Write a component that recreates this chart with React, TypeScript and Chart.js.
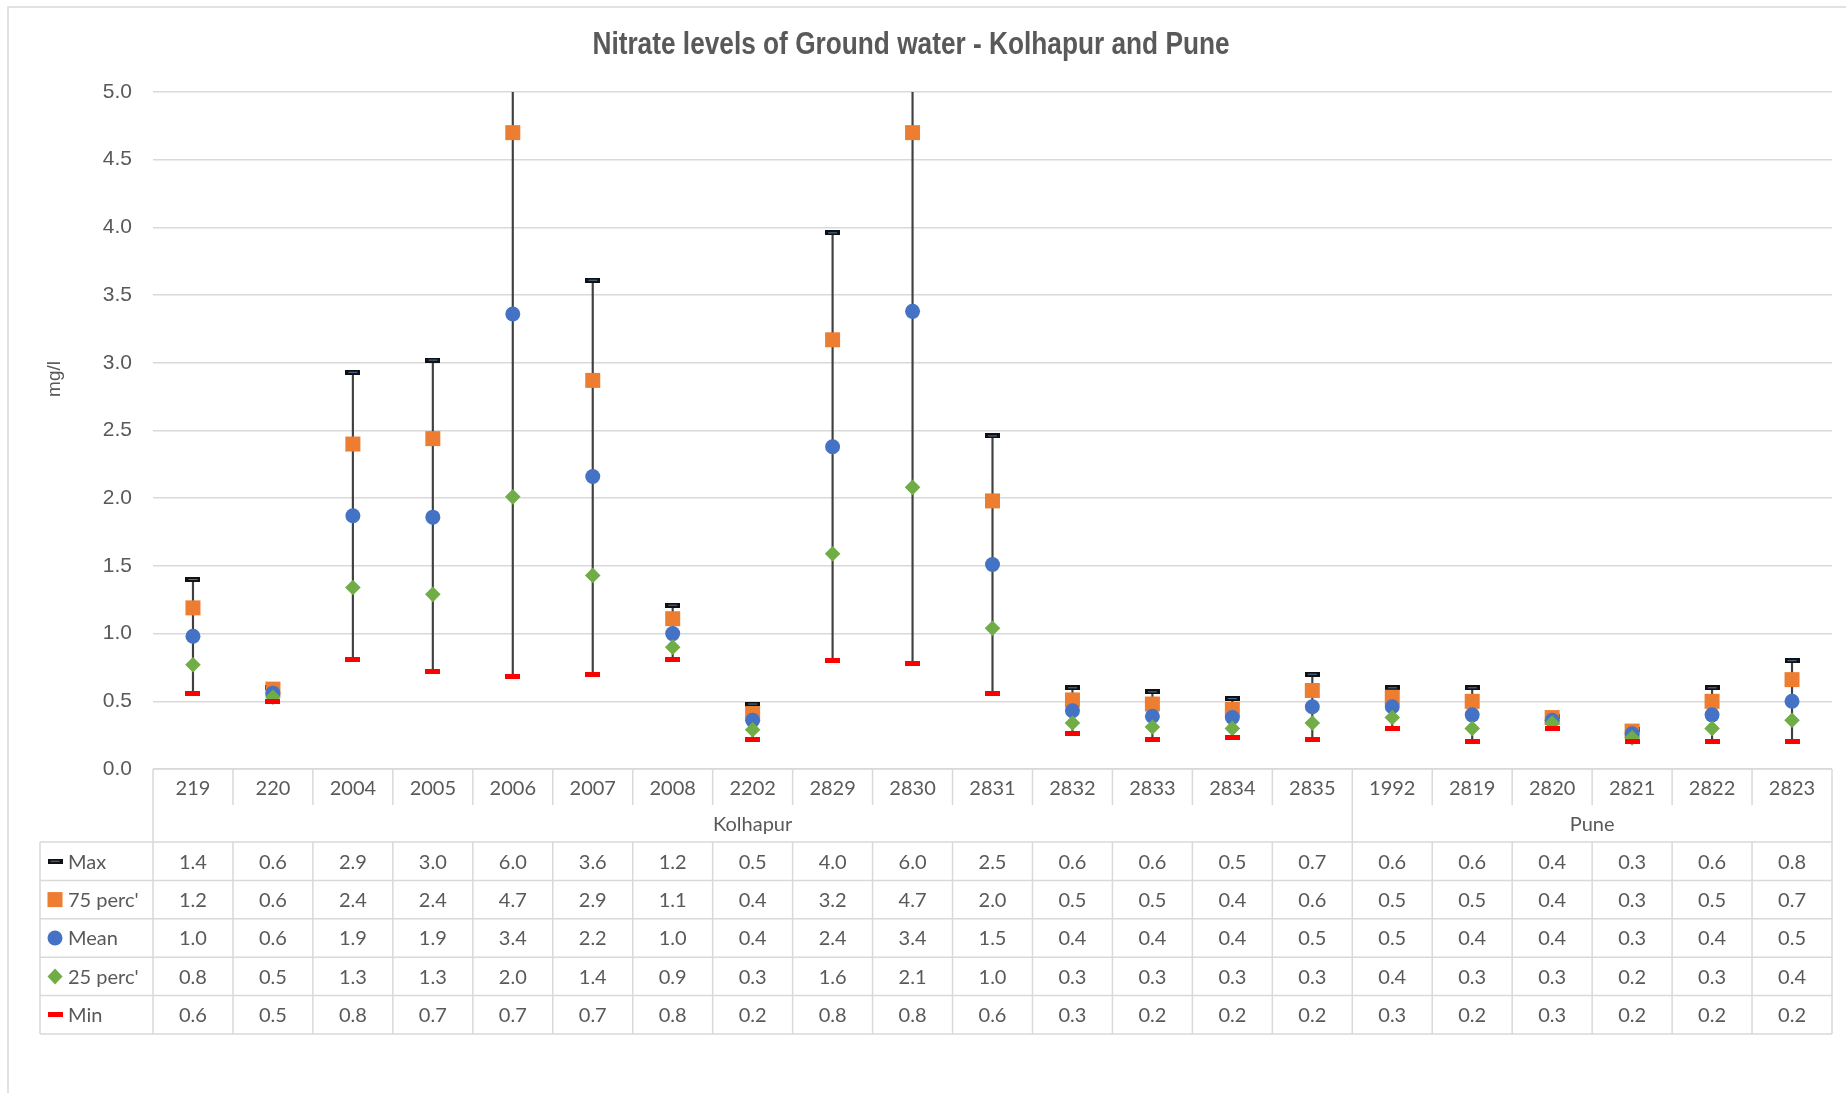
import React, { useEffect, useRef } from 'react';
import { Chart, registerables } from 'chart.js';

Chart.register(...registerables);

// ---- Data ----
const categories = ['219', '220', '2004', '2005', '2006', '2007', '2008', '2202', '2829', '2830', '2831', '2832', '2833', '2834', '2835', '1992', '2819', '2820', '2821', '2822', '2823'];
const groupLabels = ['Kolhapur', 'Pune'];
const groupSizes = [15, 6];

const maxValues = [1.40, 0.60, 2.93, 3.02, 6.0, 3.61, 1.21, 0.48, 3.96, 6.0, 2.46, 0.60, 0.57, 0.52, 0.70, 0.60, 0.60, 0.39, 0.29, 0.60, 0.80];
const p75Values = [1.19, 0.59, 2.40, 2.44, 4.70, 2.87, 1.11, 0.41, 3.17, 4.70, 1.98, 0.51, 0.48, 0.44, 0.58, 0.53, 0.50, 0.38, 0.28, 0.50, 0.66];
const meanValues = [0.98, 0.56, 1.87, 1.86, 3.36, 2.16, 1.00, 0.36, 2.38, 3.38, 1.51, 0.43, 0.39, 0.38, 0.46, 0.46, 0.40, 0.36, 0.26, 0.40, 0.50];
const p25Values = [0.77, 0.53, 1.34, 1.29, 2.01, 1.43, 0.90, 0.29, 1.59, 2.08, 1.04, 0.34, 0.31, 0.30, 0.34, 0.38, 0.30, 0.34, 0.23, 0.30, 0.36];
const minValues = [0.56, 0.50, 0.81, 0.72, 0.68, 0.70, 0.81, 0.22, 0.80, 0.78, 0.56, 0.26, 0.22, 0.23, 0.22, 0.30, 0.20, 0.30, 0.20, 0.20, 0.20];

const seriesNames = ['Max', "75 perc'", 'Mean', "25 perc'", 'Min'];
const seriesValues = [maxValues, p75Values, meanValues, p25Values, minValues];

const yMin = 0;
const yMax = 5;
const yStep = 0.5;

const titleText = 'Nitrate levels of Ground water - Kolhapur and Pune';
const yTitle = 'mg/l';

// ---- Styles ----
const GRAY_TEXT = '#595959';
const GRID = '#d9d9d9';
const ORANGE = '#ED7D31';
const BLUE = '#4472C4';
const GREEN = '#70AD47';
const RED = '#FF0000';
const SANS = "'Liberation Sans', Arial, sans-serif";
const TABLE_FONT = "Lato, 'Open Sans', sans-serif";

function makeDash(kind: 'max' | 'min') {
  const c = document.createElement('canvas');
  c.width = 15;
  c.height = 5;
  const g = c.getContext('2d')!;
  if (kind === 'max') {
    g.fillStyle = '#111111';
    g.fillRect(0, 0, 15, 5);
    g.fillStyle = '#4f79a8';
    g.fillRect(3, 2, 9, 1);
  } else {
    g.fillStyle = RED;
    g.fillRect(0, 0, 15, 5);
  }
  return c;
}

function drawLegendIcon(ctx: CanvasRenderingContext2D, idx: number, cx: number, cy: number, maxImg: HTMLCanvasElement, minImg: HTMLCanvasElement) {
  ctx.save();
  if (idx === 0) {
    ctx.drawImage(maxImg, cx - 7.5, cy - 2.5);
  } else if (idx === 1) {
    ctx.fillStyle = ORANGE;
    ctx.fillRect(cx - 7.5, cy - 7.5, 15, 15);
  } else if (idx === 2) {
    ctx.fillStyle = BLUE;
    ctx.beginPath();
    ctx.arc(cx, cy, 7.5, 0, Math.PI * 2);
    ctx.fill();
  } else if (idx === 3) {
    ctx.fillStyle = GREEN;
    ctx.beginPath();
    ctx.moveTo(cx, cy - 8);
    ctx.lineTo(cx + 7.5, cy);
    ctx.lineTo(cx, cy + 8);
    ctx.lineTo(cx - 7.5, cy);
    ctx.closePath();
    ctx.fill();
  } else {
    ctx.drawImage(minImg, cx - 7.5, cy - 2.5);
  }
  ctx.restore();
}

export default function App() {
  const ref = useRef<HTMLCanvasElement | null>(null);

  useEffect(() => {
    if (!ref.current) return;
    const maxImg = makeDash('max');
    const minImg = makeDash('min');

    const tablePlugin = {
      id: 'dataTable',
      beforeDraw(chart: any) {
        const ctx = chart.ctx as CanvasRenderingContext2D;
        ctx.save();
        ctx.fillStyle = '#ffffff';
        ctx.fillRect(0, 0, chart.width, chart.height);
        ctx.strokeStyle = GRID;
        ctx.lineWidth = 1.5;
        ctx.strokeRect(8, 7, chart.width + 40, chart.height + 40);

        // title (condensed bold)
        ctx.translate(911, 45);
        ctx.scale(0.82, 1);
        ctx.font = `bold 32px ${SANS}`;
        ctx.fillStyle = GRAY_TEXT;
        ctx.textAlign = 'center';
        ctx.textBaseline = 'middle';
        ctx.fillText(titleText, 0, 0);
        ctx.restore();
      },
      afterDraw(chart: any) {
        const ctx = chart.ctx as CanvasRenderingContext2D;
        const xs = chart.scales.x;
        const area = chart.chartArea;
        const n = categories.length;
        const w = xs.getPixelForValue(1) - xs.getPixelForValue(0);
        const left = xs.getPixelForValue(0) - w / 2;
        const right = left + n * w;
        const edges: number[] = [];
        for (let i = 0; i <= n; i++) edges.push(left + i * w);

        const top = area.bottom;
        const catBottom = top + 36;
        const groupBottom = top + 73;
        const rowH = 38.4;
        const tableBottom = groupBottom + rowH * seriesNames.length;
        const legendLeft = 40;

        ctx.save();
        ctx.strokeStyle = GRID;
        ctx.lineWidth = 1.5;
        ctx.beginPath();
        ctx.moveTo(left, top);
        ctx.lineTo(right, top);
        for (let i = 1; i < n; i++) {
          ctx.moveTo(edges[i], top);
          ctx.lineTo(edges[i], catBottom);
        }
        let acc = 0;
        const groupEdges = [0];
        groupSizes.forEach((s) => {
          acc += s;
          groupEdges.push(acc);
        });
        groupEdges.forEach((g) => {
          ctx.moveTo(edges[g], top);
          ctx.lineTo(edges[g], tableBottom);
        });
        for (let r = 0; r <= seriesNames.length; r++) {
          const y = groupBottom + r * rowH;
          ctx.moveTo(legendLeft, y);
          ctx.lineTo(right, y);
        }
        ctx.moveTo(legendLeft, groupBottom);
        ctx.lineTo(legendLeft, tableBottom);
        for (let i = 1; i < n; i++) {
          ctx.moveTo(edges[i], groupBottom);
          ctx.lineTo(edges[i], tableBottom);
        }
        ctx.stroke();

        ctx.fillStyle = GRAY_TEXT;
        ctx.font = `20px ${TABLE_FONT}`;
        ctx.textAlign = 'center';
        ctx.textBaseline = 'middle';
        for (let g = 0; g < groupLabels.length; g++) {
          const cx = (edges[groupEdges[g]] + edges[groupEdges[g + 1]]) / 2;
          ctx.fillText(groupLabels[g], cx, (catBottom + groupBottom) / 2 + 1);
        }

        for (let r = 0; r < seriesNames.length; r++) {
          const cy = groupBottom + r * rowH + rowH / 2 + 1;
          const vals = seriesValues[r];
          for (let i = 0; i < n; i++) {
            ctx.fillText(vals[i].toFixed(1), (edges[i] + edges[i + 1]) / 2, cy);
          }
          drawLegendIcon(ctx, r, 55, cy - 1, maxImg, minImg);
          ctx.textAlign = 'left';
          ctx.fillText(seriesNames[r], 68, cy);
          ctx.textAlign = 'center';
        }

        ctx.save();
        ctx.translate(55, 379);
        ctx.rotate(-Math.PI / 2);
        ctx.font = `19px ${SANS}`;
        ctx.fillStyle = GRAY_TEXT;
        ctx.textAlign = 'center';
        ctx.textBaseline = 'middle';
        ctx.fillText(yTitle, 0, 0);
        ctx.restore();

        ctx.restore();
      },
    };

    const markerBase = {
      type: 'line' as const,
      showLine: false,
      pointBorderWidth: 0,
      pointHoverRadius: 0,
      clip: 10,
    };

    const chart = new Chart(ref.current, {
      type: 'bar',
      data: {
        labels: categories,
        datasets: [
          {
            type: 'bar',
            label: 'High-Low',
            data: minValues.map((m, i) => [m, maxValues[i]]) as any,
            backgroundColor: '#404040',
            borderWidth: 0,
            barThickness: 1.5,
            grouped: false,
            order: 10,
          },
          { ...markerBase, label: 'Max', data: maxValues, pointStyle: maxImg as any, pointRadius: 7, order: 5 },
          { ...markerBase, label: "75 perc'", data: p75Values, pointStyle: 'rect', pointRadius: 10.6, pointBackgroundColor: ORANGE, order: 4 },
          { ...markerBase, label: 'Mean', data: meanValues, pointStyle: 'circle', pointRadius: 7.5, pointBackgroundColor: BLUE, order: 3 },
          { ...markerBase, label: "25 perc'", data: p25Values, pointStyle: 'rectRot', pointRadius: 7.8, pointBackgroundColor: GREEN, order: 2 },
          { ...markerBase, label: 'Min', data: minValues, pointStyle: minImg as any, pointRadius: 7, order: 1 },
        ] as any,
      },
      options: {
        responsive: false,
        animation: false,
        events: [],
        layout: { padding: { top: 92, left: 0, right: 14, bottom: 288 } },
        plugins: {
          legend: { display: false },
          tooltip: { enabled: false },
          title: { display: false },
        },
        scales: {
          x: {
            grid: { display: false },
            border: { display: false },
            ticks: {
              color: GRAY_TEXT,
              font: { family: TABLE_FONT, size: 20 },
              padding: 0,
              maxRotation: 0,
              autoSkip: false,
            },
            afterFit: (s: any) => {
              s.height = 36;
            },
          },
          y: {
            min: yMin,
            max: yMax,
            ticks: {
              stepSize: yStep,
              callback: (v: any) => Number(v).toFixed(1),
              color: GRAY_TEXT,
              font: { family: SANS, size: 21 },
              padding: 21,
            },
            grid: { color: GRID, lineWidth: 1.5, drawTicks: false },
            border: { display: false },
            afterFit: (s: any) => {
              s.width = 153;
            },
          },
        },
      } as any,
      plugins: [tablePlugin],
    });

    return () => chart.destroy();
  }, []);

  return (
    <div style={{ position: 'fixed', left: 0, top: 0, width: 1846, height: 1093, background: '#fff' }}>
      <canvas ref={ref} width={1846} height={1093} style={{ display: 'block' }} />
    </div>
  );
}
